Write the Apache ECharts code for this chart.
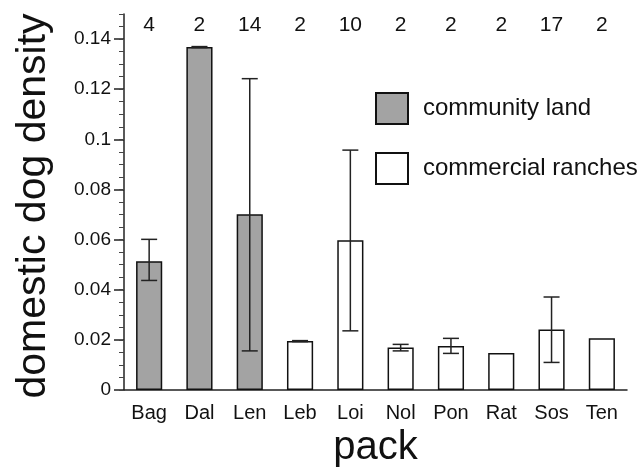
<!DOCTYPE html>
<html>
<head>
<meta charset="utf-8">
<script src="https://cdn.jsdelivr.net/npm/echarts@6/dist/echarts.min.js"></script>
<style>
html,body{margin:0;padding:0;background:#fff;}
#c{width:644px;height:467px;}
</style>
</head>
<body>
<div id="c"></div>
<script>
// ---- data ----
var packs = ['Bag','Dal','Len','Leb','Loi','Nol','Pon','Rat','Sos','Ten'];
var landType = ['community','community','community','commercial','commercial','commercial','commercial','commercial','commercial','commercial'];
var density = [0.0514, 0.1368, 0.0701, 0.0195, 0.0597, 0.0170, 0.0176, 0.0148, 0.0241, 0.0206];
var errLow  = [0.0437, 0.1366, 0.0156, 0.0193, 0.0236, 0.0156, 0.0146, 0.0148, 0.0110, 0.0206];
var errHigh = [0.0601, 0.1370, 0.1242, 0.0197, 0.0957, 0.0182, 0.0206, 0.0148, 0.0371, 0.0206];
var counts = [4, 2, 14, 2, 10, 2, 2, 2, 17, 2];
var yTicks = [0, 0.02, 0.04, 0.06, 0.08, 0.1, 0.12, 0.14];
var seriesNames = {community: 'community land', commercial: 'commercial ranches'};

var FONT = "'Liberation Sans', Arial, Helvetica, sans-serif";
var communityData = density.map(function (v, i) { return landType[i] === 'community' ? v : null; });
var commercialData = density.map(function (v, i) { return landType[i] === 'commercial' ? v : null; });
var errData = packs.map(function (p, i) { return [i, errLow[i], errHigh[i]]; });

var chart = echarts.init(document.getElementById('c'), null, {renderer: 'canvas'});
chart.setOption({
  animation: false,
  backgroundColor: '#fff',
  textStyle: {fontFamily: FONT},
  grid: {left: 124, right: 17, top: 14, bottom: 77, containLabel: false, outerBoundsMode: 'none'},
  legend: {
    orient: 'vertical',
    left: 375, top: 92,
    padding: 0,
    itemWidth: 32, itemHeight: 31, itemGap: 27,
    icon: 'rect',
    textStyle: {fontSize: 24, color: '#111', fontFamily: FONT, padding: [0, 0, 0, 10]},
    data: [seriesNames.community, seriesNames.commercial]
  },
  xAxis: [{
    type: 'category',
    data: packs,
    position: 'bottom',
    axisLine: {lineStyle: {color: '#222', width: 1.5}},
    axisTick: {length: 8, lineStyle: {color: '#222', width: 1.5}},
    axisLabel: {fontSize: 20, color: '#111', margin: 13, fontFamily: FONT},
    name: 'pack',
    nameLocation: 'middle',
    nameGap: 34,
    nameTextStyle: {fontSize: 40, color: '#111', fontFamily: FONT},
    splitLine: {show: false}
  }, {
    type: 'category',
    data: counts.map(String),
    position: 'top',
    axisLine: {show: false},
    axisTick: {show: false},
    axisLabel: {inside: true, fontSize: 21, color: '#111', margin: 1, fontFamily: FONT},
    splitLine: {show: false}
  }],
  yAxis: [{
    type: 'value',
    min: 0, max: 0.15,
    position: 'left',
    axisLine: {show: true, lineStyle: {color: '#222', width: 1.5}},
    axisTick: {show: true, length: 10, customValues: yTicks, lineStyle: {color: '#222', width: 1.5}},
    axisLabel: {
      customValues: yTicks,
      fontSize: 19, color: '#111', margin: 13, fontFamily: FONT,
      formatter: function (v) { return String(+(+v).toFixed(3)); }
    },
    name: 'domestic dog density',
    nameLocation: 'middle',
    nameGap: 70,
    nameTextStyle: {fontSize: 41, color: '#111', fontFamily: FONT, padding: [0, 8, 0, 0]},
    splitLine: {show: false}
  }, {
    type: 'value',
    min: 0, max: 0.15, interval: 0.005,
    position: 'left',
    axisLine: {show: false},
    axisTick: {show: true, length: 5, lineStyle: {color: '#444', width: 1}},
    axisLabel: {show: false},
    splitLine: {show: false}
  }],
  series: [{
    name: seriesNames.community,
    type: 'bar',
    data: communityData,
    barWidth: '52%',
    barGap: '-100%',
    itemStyle: {color: '#a3a3a3', borderColor: '#111', borderWidth: 1.5}
  }, {
    name: seriesNames.commercial,
    type: 'bar',
    data: commercialData,
    barWidth: '52%',
    barGap: '-100%',
    itemStyle: {color: '#ffffff', borderColor: '#111', borderWidth: 1.5}
  }, {
    name: 'error',
    type: 'custom',
    data: errData,
    encode: {x: 0, y: [1, 2]},
    z: 5,
    renderItem: function (params, api) {
      var i = api.value(0), lo = api.value(1), hi = api.value(2);
      if (hi === lo) return null;
      var pLo = api.coord([i, lo]);
      var pHi = api.coord([i, hi]);
      var hw = 8;
      var st = {stroke: '#222', lineWidth: 1.5};
      return {
        type: 'group',
        children: [
          {type: 'line', shape: {x1: pLo[0], y1: pLo[1], x2: pHi[0], y2: pHi[1]}, style: st},
          {type: 'line', shape: {x1: pLo[0] - hw, y1: pLo[1], x2: pLo[0] + hw, y2: pLo[1]}, style: st},
          {type: 'line', shape: {x1: pHi[0] - hw, y1: pHi[1], x2: pHi[0] + hw, y2: pHi[1]}, style: st}
        ]
      };
    }
  }]
});
</script>
</body>
</html>
